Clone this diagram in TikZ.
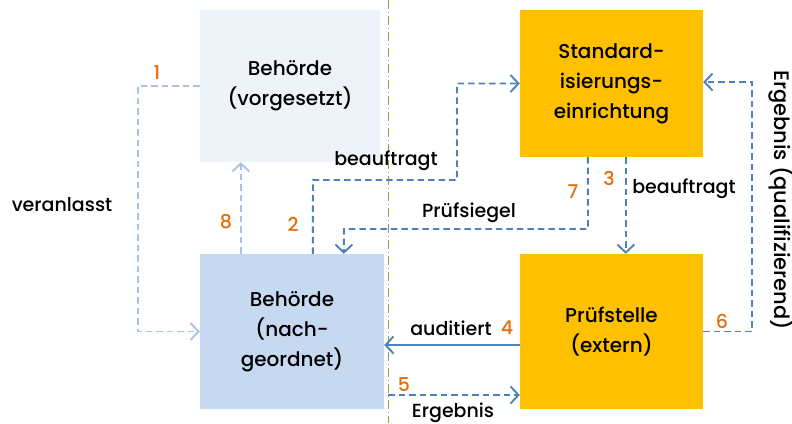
\documentclass[tikz,border=0pt]{standalone}
\usepackage{fontspec}
\setmainfont{Poppins}[UprightFont={* Medium}]
\usetikzlibrary{arrows.meta,calc}
\definecolor{midblue}{HTML}{4F81BD}
\definecolor{lightline}{HTML}{A9C3E3}
\definecolor{paleblue}{HTML}{EEF3FA}
\definecolor{boxblue}{HTML}{C6D9F1}
\definecolor{boxorange}{HTML}{FFC000}
\definecolor{numorange}{HTML}{E46C0A}
\definecolor{olive}{HTML}{8AA84A}
\tikzset{
  box/.style={rectangle, inner sep=0pt, align=center, font=\fontsize{20}{30}\selectfont},
  conn/.style={midblue, line width=1.9pt, dash pattern=on 6.5pt off 4pt, -{Straight Barb[length=8pt,width=17pt,line width=1.9pt]}},
  lconn/.style={conn, lightline},
  solidconn/.style={midblue, line width=1.9pt, -{Straight Barb[length=8pt,width=17pt,line width=1.9pt]}},
  lbl/.style={font=\fontsize{19}{21}\selectfont, inner sep=0pt},
  num/.style={lbl, text=numorange}
}
\begin{document}
\begin{tikzpicture}[x=1pt,y=-1pt]
\useasboundingbox (0,0) rectangle (792,423);
% divider
\draw[olive, line width=0.8pt, dash pattern=on 9pt off 3pt on 1pt off 3pt] (388,0) coordinate (dtop) -- (388,423) coordinate (dbot);
% boxes
\node[box, fill=paleblue, minimum width=180pt, minimum height=152pt] (A) at (290,86) {Behörde\\(vorgesetzt)};
\node[box, fill=boxorange, minimum width=183pt, minimum height=147pt] (B) at (611.5,83.5) {Standard-\\isierungs-\\einrichtung};
\node[box, fill=boxblue, minimum width=184pt, minimum height=155pt] (C) at (292,331.5) {Behörde\\(nach-\\geordnet)};
\node[box, fill=boxorange, minimum width=183pt, minimum height=155pt] (D) at (611.5,331.5) {Prüfstelle\\(extern)};
% 1 veranlasst
\coordinate (p1) at (138,86);
\draw[lconn] (A.west) -- (p1) |- (C.west);
% 8
\draw[lconn] ($(C.north west)+(41,0)$) -- ($(A.south west)+(41,0)$);
% 2
\coordinate (p2a) at (313,180);
\coordinate (p2b) at (457,180);
\draw[conn] ($(C.north west)+(113,0)$) -- (p2a) -- (p2b) |- (B.west);
% 7
\coordinate (p7a) at (588,229);
\coordinate (p7b) at (344,229);
\draw[conn] ($(B.south west)+(68,0)$) -- (p7a) -- (p7b) -- ($(C.north west)+(144,0)$);
% 3
\draw[conn] ($(B.south west)+(106,0)$) -- ($(D.north west)+(106,0)$);
% 4
\draw[solidconn] ($(D.west)+(0,13.5)$) -- ($(C.east)+(0,13.5)$);
% 5
\draw[conn] ($(C.east)+(4,63.5)$) -- ($(D.west)+(0,63.5)$);
% 6
\coordinate (p6a) at (752,331.5);
\coordinate (p6b) at (752,82);
\draw[conn] (D.east) -- (p6a) -- (p6b) -- ($(B.east)+(0,-1.5)$);
% labels
\node[num] (n1) at (157,73) {1};
\node[lbl] (l1) at (62,205) {veranlasst};
\node[num] (n8) at (226,222) {8};
\node[num] (n2) at (293,224) {2};
\node[lbl] (l2) at (386,161) {beauftragt};
\node[lbl] (l7) at (469,213) {Prüfsiegel};
\node[num] (n7) at (573,192) {7};
\node[num] (n3) at (609,178) {3};
\node[lbl] (l3) at (684,189) {beauftragt};
\node[lbl] (l4) at (451,328) {auditiert};
\node[num] (n4) at (507,328) {4};
\node[num] (n5) at (404,385) {5};
\node[lbl] (l5) at (453,413) {Ergebnis};
\node[num] (n6) at (722,321) {6};
\node[lbl, font=\fontsize{21}{23}\selectfont, rotate=-90] (l6) at (781,200) {Ergebnis (qualifizierend)};
\end{tikzpicture}
\end{document}
